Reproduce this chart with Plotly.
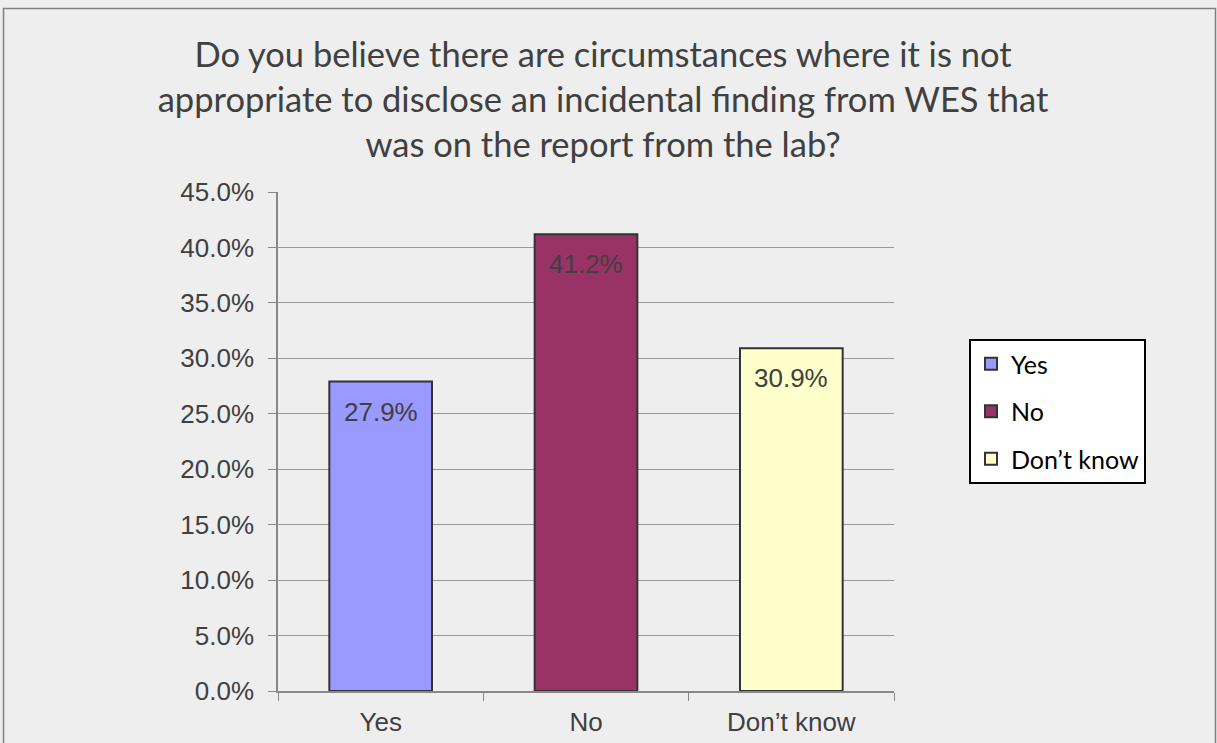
import plotly.graph_objects as go

categories = ["Yes", "No", "Don\u2019t know"]
values = [27.9, 41.2, 30.9]
labels = ["27.9%", "41.2%", "30.9%"]
colors = ["#9999FF", "#993366", "#FFFFCC"]
ytick_vals = [0, 5, 10, 15, 20, 25, 30, 35, 40, 45]
ytick_text = ["%.1f%%" % v for v in ytick_vals]

W, H = 1217, 743
L, R, T, B = 278, 894, 192, 691
ARIAL = "Liberation Sans, Arial"
CALIBRI = "Lato, Carlito, Calibri"

fig = go.Figure()
for c, v, lab, col in zip(categories, values, labels, colors):
    fig.add_trace(go.Bar(
        x=[c], y=[v], name=c, legendgroup=c,
        marker=dict(color=col, line=dict(color="#333333", width=2)),
        cliponaxis=False,
    ))
    fig.add_annotation(x=c, y=v, xref="x", yref="y", text=lab, showarrow=False,
                       yanchor="top", yshift=-13,
                       font=dict(family=ARIAL, size=26, color="#404040"))

def px2paper_x(p):
    return (p - L) / (R - L)

def px2paper_y(p):
    return (B - p) / (B - T)

fig.add_shape(type="rect", xref="paper", yref="paper",
              x0=px2paper_x(3.5), x1=px2paper_x(1215.5),
              y0=px2paper_y(760), y1=px2paper_y(8.5),
              line=dict(color="#808080", width=1.5), fillcolor="rgba(0,0,0,0)", layer="below")

fig.update_layout(
    width=W, height=H,
    margin=dict(l=L, r=W - R, t=T, b=H - B, autoexpand=False),
    paper_bgcolor="#EEEEEE", plot_bgcolor="#EEEEEE",
    barmode="overlay", bargap=0.5,
    title=dict(
        text="Do you believe there are circumstances where it is not<br>appropriate to disclose an incidental finding from WES that<br>was on the report from the lab?",
        x=603 / W, xanchor="center", y=1 - 67 / H, yanchor="top",
        font=dict(family=CALIBRI, size=34.5, color="#404040"),
    ),
    showlegend=True,
    legend=dict(
        x=px2paper_x(969), xanchor="left", y=px2paper_y(339), yanchor="top",
        bgcolor="#FFFFFF", bordercolor="#000000", borderwidth=2,
        font=dict(family=CALIBRI, size=25, color="#000000"),
        traceorder="grouped", tracegroupgap=12, itemwidth=30,
    ),
    xaxis=dict(
        showline=True, linecolor="#888888", linewidth=1.5,
        ticks="outside", tickson="boundaries", ticklen=8, tickcolor="#888888",
        tickfont=dict(family=ARIAL, size=26, color="#404040"),
        ticklabelstandoff=7,
        showgrid=False, fixedrange=True,
    ),
    yaxis=dict(
        range=[0, 45], tickvals=ytick_vals, ticktext=ytick_text,
        showline=True, linecolor="#888888", linewidth=1.5,
        ticks="outside", ticklen=8, tickcolor="#888888",
        ticklabelstandoff=9,
        showgrid=True, gridcolor="#999999", gridwidth=1,
        tickfont=dict(family=ARIAL, size=26, color="#404040"),
        zeroline=False,
    ),
)

fig.write_html("out.html", config={"displayModeBar": False},
               post_script="document.body.style.margin='0';")
